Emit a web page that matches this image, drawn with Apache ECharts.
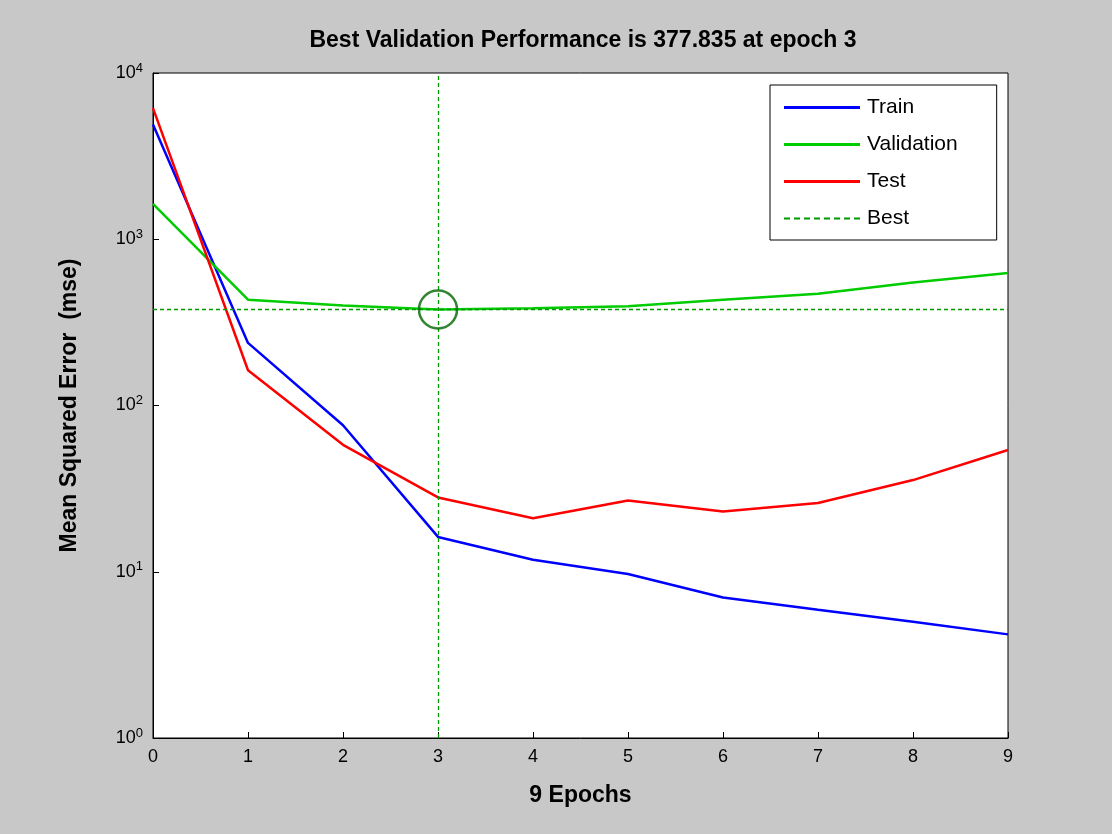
<!DOCTYPE html>
<html><head><meta charset="utf-8">
<script src="https://cdn.jsdelivr.net/npm/echarts@6/dist/echarts.min.js"></script>
<style>html,body{margin:0;padding:0;background:#c8c8c8}#grafico{width:1112px;height:834px}</style>
</head><body><div id="grafico"></div>
<script>
var epochs = [0, 1, 2, 3, 4, 5, 6, 7, 8, 9];
var train = [4900, 238, 76, 16.2, 11.8, 9.7, 7.0, 5.9, 5.0, 4.2];
var validation = [1630, 433, 400, 377.835, 385, 395, 433, 470, 550, 627];
var test = [6150, 163, 58, 28, 21, 26.8, 23, 25.9, 35.6, 54];
var bestEpoch = 3;
var bestPerf = 377.835;

function pairs(v) { return epochs.map(function (e, i) { return [e, v[i]]; }); }

var chartDom = document.getElementById('grafico');
var myChart = echarts.init(chartDom);
var font = 'Arial, "Liberation Sans", sans-serif';
var solidIcon = 'path://M0,0h76v3h-76z';
var dashIcon = 'path://M0,0h6v2h-6zM10,0h6v2h-6zM20,0h6v2h-6zM30,0h6v2h-6zM40,0h6v2h-6zM50,0h6v2h-6zM60,0h6v2h-6zM70,0h6v2h-6z';

var option = {
    backgroundColor: '#c8c8c8',
    animation: false,
    textStyle: { fontFamily: font },
    title: {
        text: 'Best Validation Performance is ' + bestPerf + ' at epoch ' + bestEpoch,
        left: 578, top: 24, textAlign: 'center',
        textStyle: { fontSize: 23, fontWeight: 'bold', color: '#000', fontFamily: font }
    },
    grid: { left: 153, right: 104, top: 73, bottom: 96, show: true, backgroundColor: '#fff', borderColor: '#000', borderWidth: 1 },
    legend: {
        orient: 'vertical', left: 770, top: 85,
        backgroundColor: '#fff', borderColor: '#000', borderWidth: 1,
        padding: [12, 39, 11, 14], itemGap: 16, itemWidth: 76, itemHeight: 3,
        textStyle: { fontSize: 21, color: '#000', fontFamily: font, padding: [0, 0, 0, 2] },
        data: [
            { name: 'Train', icon: solidIcon },
            { name: 'Validation', icon: solidIcon },
            { name: 'Test', icon: solidIcon },
            { name: 'Best', icon: dashIcon, itemStyle: { color: '#009900' } }
        ]
    },
    xAxis: {
        type: 'value', min: 0, max: 9, interval: 1,
        name: (epochs.length - 1) + ' Epochs', nameLocation: 'middle', nameGap: 46,
        nameTextStyle: { fontSize: 23, fontWeight: 'bold', color: '#000' },
        axisLine: { lineStyle: { color: '#000' } },
        axisTick: { inside: true, length: 6, lineStyle: { color: '#000' } },
        axisLabel: { fontSize: 18, color: '#000', margin: 10 },
        splitLine: { show: false }
    },
    yAxis: {
        type: 'log', min: 1, max: 10000, logBase: 10,
        name: 'Mean Squared Error  (mse)', nameLocation: 'middle', nameGap: 72,
        nameTextStyle: { fontSize: 23, fontWeight: 'bold', color: '#000' },
        axisLine: { lineStyle: { color: '#000' } },
        axisTick: { inside: true, length: 6, lineStyle: { color: '#000' } },
        axisLabel: {
            color: '#000', margin: 10,
            formatter: function (v) { return '{b|10}{s|' + Math.round(Math.log10(v)) + '}'; },
            rich: { b: { fontSize: 18, color: '#000' }, s: { fontSize: 13, color: '#000', verticalAlign: 'top', padding: [0, 0, 10, 0] } }
        },
        splitLine: { show: false }
    },
    series: [
        { name: 'Train', type: 'line', data: pairs(train), symbol: 'none', lineStyle: { color: '#0000ff', width: 2.5 }, itemStyle: { color: '#0000ff' } },
        { name: 'Validation', type: 'line', data: pairs(validation), symbol: 'none', lineStyle: { color: '#00cc00', width: 2.5 }, itemStyle: { color: '#00cc00' } },
        { name: 'Test', type: 'line', data: pairs(test), symbol: 'none', lineStyle: { color: '#ff0000', width: 2.5 }, itemStyle: { color: '#ff0000' } },
        {
            name: 'Best', type: 'line', data: [], symbol: 'none',
            lineStyle: { color: '#009900', width: 1.5, type: [4, 3] }, itemStyle: { color: '#009900' },
            markLine: {
                silent: true, symbol: 'none', label: { show: false },
                lineStyle: { color: '#009900', width: 1.3, type: [4, 3] },
                data: [
                    { xAxis: bestEpoch, lineStyle: { color: '#009900' } },
                    { yAxis: bestPerf, lineStyle: { color: '#009900' } }
                ]
            }
        },
        {
            name: 'circle', type: 'scatter', data: [[bestEpoch, bestPerf]], symbol: 'circle', symbolSize: 38,
            itemStyle: { color: 'transparent', borderColor: '#006600', borderWidth: 2.5 }, z: 5
        }
    ]
};
myChart.setOption(option);
</script></body></html>
